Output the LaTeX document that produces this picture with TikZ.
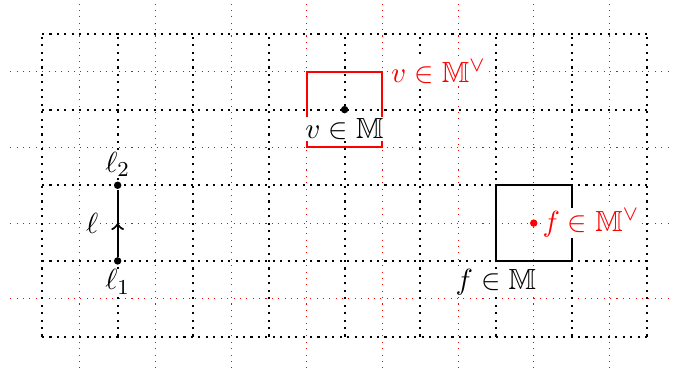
\documentclass[tikz,border=0pt]{standalone}
\usepackage{amssymb}
\usetikzlibrary{decorations.markings}
\tikzset{
  blackgrid/.style={thick,dotted,black},
  redgrid/.style={thin,dotted,red},
  cellbox/.style={thick},
  pointdot/.style={circle,fill,inner sep=0pt,minimum size=2.8pt},
  lab/.style={fill=white,inner sep=0.4pt,outer sep=2.9pt,font=\fontsize{10.95}{13.6}\selectfont},
  midarrow/.style={decoration={markings,mark=at position 0.5 with {\arrow{>}}},postaction={decorate}}
}
\begin{document}
\begin{tikzpicture}
\useasboundingbox (-0.555,-0.489) rectangle (8.354,4.449);
% grids
\foreach \x in {0.5,1.5,...,7.5} \draw[redgrid] (\x,-0.42) -- (\x,4.42);
\foreach \y in {0.5,1.5,2.5,3.5} \draw[redgrid] (-0.42,\y) -- (8.42,\y);
\draw[blackgrid] (0,0) grid (8,4);
% boxes
\draw[cellbox,red] (3.5,2.5) rectangle (4.5,3.5);
\draw[cellbox,black] (6,1) rectangle (7,2);
% vertex v
\node[pointdot] (v) at (4,3) {};
\coordinate (vc) at (4.5,3.5);
\node[lab,below] (vl) at (v) {$v\in\mathbb{M}$};
\node[lab,right,text=red] (vdl) at (vc) {$v\in\mathbb{M}^\vee$};
% face f
\coordinate (fc) at (6,1);
\node[pointdot,red] (fd) at (6.5,1.5) {};
\node[lab,below] (fl) at (fc) {$f\in\mathbb{M}$};
\node[lab,right,text=red] (fdl) at (fd) {$f\in\mathbb{M}^\vee$};
% edge l
\node[pointdot] (l1) at (1,1) {};
\node[pointdot] (l2) at (1,2) {};
\draw[thick,midarrow] (l1) -- (l2);
\coordinate (lm) at (1,1.5);
\node[lab,below] (l1l) at (l1) {$\ell_1$};
\node[lab,above] (l2l) at (l2) {$\ell_2$};
\node[lab,left=4pt] (ll) at (lm) {$\ell$};
\end{tikzpicture}
\end{document}
